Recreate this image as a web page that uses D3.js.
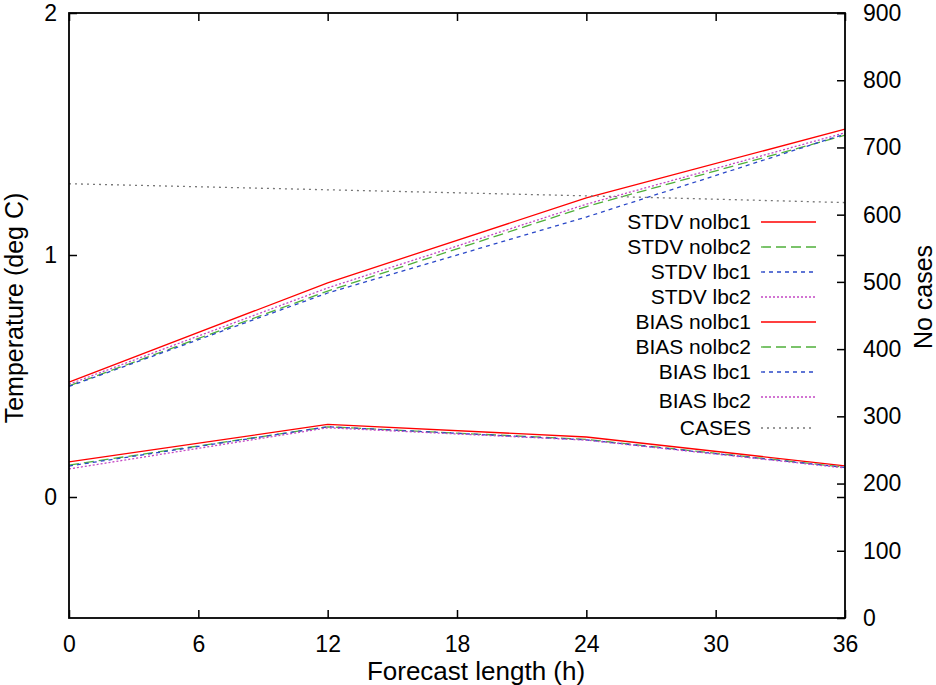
<!doctype html>
<html>
<head>
  <title>Forecast verification</title>
  <script src="https://d3js.org/d3.v7.min.js" charset="utf-8"></script>
  <style>
    body { margin: 0; background: #fff; }
    text { font-family: "Liberation Sans", Arial, Helvetica, sans-serif; fill: #000; }
  </style>
</head>
<body>
  <svg width="936" height="685"></svg>
  <script>
  // values
  var hours = [0, 12, 24, 36];
  var stdvNolbc1 = [0.475, 0.885, 1.236, 1.52];
  var stdvNolbc2 = [0.459, 0.851, 1.200, 1.495];
  var stdvLbc1   = [0.457, 0.843, 1.157, 1.500];
  var stdvLbc2   = [0.466, 0.864, 1.210, 1.505];
  var biasNolbc1 = [0.145, 0.300, 0.248, 0.129];
  var biasNolbc2 = [0.132, 0.290, 0.238, 0.123];
  var biasLbc1   = [0.128, 0.290, 0.236, 0.122];
  var biasLbc2   = [0.116, 0.286, 0.235, 0.120];
  var cases      = [646, 637, 628, 618];

  var xTicks = [0, 6, 12, 18, 24, 30, 36];
  var yTicks = [0, 1, 2];
  var y2Ticks = [0, 100, 200, 300, 400, 500, 600, 700, 800, 900];

  var svg = d3.select("svg"),
      margin = {top: 13, right: 91, bottom: 67, left: 69},
      width = +svg.attr("width") - margin.left - margin.right,
      height = +svg.attr("height") - margin.top - margin.bottom;

  var x = d3.scaleLinear().domain([0, 36]).range([0, width]),
      y = d3.scaleLinear().domain([-0.5, 2]).range([height, 0]),
      y2 = d3.scaleLinear().domain([0, 900]).range([height, 0]);

  var series = [
    {name: "STDV nolbc1", values: stdvNolbc1, color: "#ff0000", dash: null, axis: y},
    {name: "STDV nolbc2", values: stdvNolbc2, color: "#4fb03a", dash: "10,5", axis: y},
    {name: "STDV lbc1",   values: stdvLbc1,   color: "#2a48c8", dash: "4,4", axis: y},
    {name: "STDV lbc2",   values: stdvLbc2,   color: "#c447c4", dash: "2,2", axis: y},
    {name: "BIAS nolbc1", values: biasNolbc1, color: "#ff0000", dash: null, axis: y},
    {name: "BIAS nolbc2", values: biasNolbc2, color: "#4fb03a", dash: "10,5", axis: y},
    {name: "BIAS lbc1",   values: biasLbc1,   color: "#2a48c8", dash: "4,4", axis: y},
    {name: "BIAS lbc2",   values: biasLbc2,   color: "#c447c4", dash: "2,2", axis: y},
    {name: "CASES",       values: cases,      color: "#777777", dash: "2,4", axis: y2}
  ];

  var g = svg.append("g")
      .attr("transform", "translate(" + margin.left + "," + margin.top + ")");

  // lines
  series.forEach(function(s) {
    var line = d3.line()
        .x(function(d, i) { return x(hours[i]); })
        .y(function(d) { return s.axis(d); });
    g.append("path")
        .datum(s.values)
        .attr("fill", "none")
        .attr("stroke", s.color)
        .attr("stroke-width", 1.3)
        .attr("stroke-dasharray", s.dash)
        .attr("d", line);
  });

  // axes, gnuplot style ticks pointing inwards
  g.append("g")
      .attr("transform", "translate(0," + height + ")")
      .call(d3.axisBottom(x).tickValues(xTicks).tickSize(-8).tickPadding(18));
  g.append("g")
      .call(d3.axisTop(x).tickValues(xTicks).tickSize(-8).tickFormat(""));
  g.append("g")
      .call(d3.axisLeft(y).tickValues(yTicks).tickSize(-8).tickPadding(12).tickFormat(d3.format("d")));
  g.append("g")
      .attr("transform", "translate(" + width + ",0)")
      .call(d3.axisRight(y).tickValues(yTicks).tickSize(-8).tickFormat(""));
  g.append("g")
      .attr("transform", "translate(" + width + ",0)")
      .call(d3.axisRight(y2).tickValues(y2Ticks).tickSize(-8).tickPadding(18));

  g.selectAll(".domain").remove();
  g.selectAll(".tick line").attr("stroke", "#000").attr("stroke-width", 1.5);
  g.selectAll(".tick text").style("font-size", "23px").attr("fill", "#000")
      .style("font-family", "'Liberation Sans', Arial, sans-serif");

  g.append("rect")
      .attr("width", width)
      .attr("height", height)
      .attr("fill", "none")
      .attr("stroke", "#000")
      .attr("stroke-width", 1.8);

  // axis titles
  svg.append("text")
      .attr("x", 476)
      .attr("y", 680)
      .attr("text-anchor", "middle")
      .style("font-size", "26px")
      .text("Forecast length (h)");
  svg.append("text")
      .attr("transform", "translate(23,308) rotate(-90)")
      .attr("text-anchor", "middle")
      .style("font-size", "25px")
      .text("Temperature (deg C)");
  svg.append("text")
      .attr("transform", "translate(932,297) rotate(-90)")
      .attr("text-anchor", "middle")
      .style("font-size", "25px")
      .text("No cases");

  // legend
  var rowY = [222, 247, 272, 297, 322, 347, 372, 397, 428];
  var textShift = [0, 0, 0, 0, 0, 0, 0, 4, 0];
  var legend = svg.append("g");
  series.forEach(function(s, i) {
    legend.append("text")
        .attr("x", 751)
        .attr("y", rowY[i] + textShift[i])
        .attr("dy", "0.35em")
        .attr("text-anchor", "end")
        .style("font-size", "21px")
        .text(s.name);
    legend.append("line")
        .attr("x1", 761)
        .attr("x2", s.name == "CASES" ? 813 : 816)
        .attr("y1", rowY[i])
        .attr("y2", rowY[i])
        .attr("stroke", s.color)
        .attr("stroke-width", 1.3)
        .attr("stroke-dasharray", s.dash);
  });
  </script>
</body>
</html>
